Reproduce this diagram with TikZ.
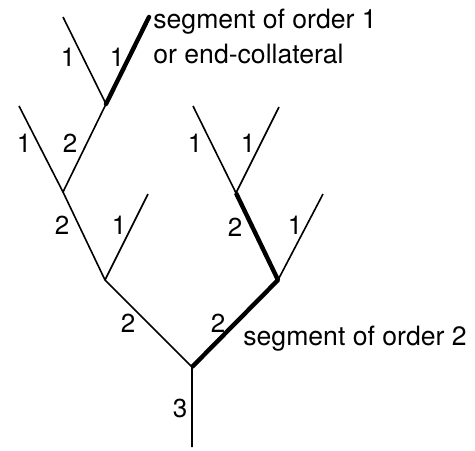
\documentclass[tikz,border=0pt]{standalone}
\usepackage{fontspec}
\setmainfont{TeX Gyre Heros}
\begin{document}
\begin{tikzpicture}[x=0.5pt,y=-0.5pt,
  seg/.style={line width=0.8pt},
  order/.style={line width=2.2pt},
  num/.style={inner sep=0pt,font=\fontsize{13}{15}\selectfont},
  note/.style={inner sep=0pt,anchor=base west,font=\fontsize{13.3}{17.5}\selectfont}]
  \useasboundingbox (0,0) rectangle (475,450);
  % junctions and tips of the tree
  \coordinate (foot) at (192,447);
  \coordinate (root) at (192,367);
  \coordinate (left) at (105,280);
  \coordinate (right) at (278,280);
  \coordinate (lmid) at (63,192);
  \coordinate (ltop) at (106,104);
  \coordinate (rmid) at (236,193);
  \coordinate (tipa) at (148,194);
  \coordinate (tipb) at (19,106);
  \coordinate (tipc) at (63,17);
  \coordinate (tipd) at (149,17);
  \coordinate (tipe) at (323,194);
  \coordinate (tipf) at (193,106);
  \coordinate (tipg) at (279,107);
  % thin segments
  \draw[seg] (foot) -- (root) -- (left) -- (lmid) -- (ltop) -- (tipc);
  \draw[seg] (left) -- (tipa);
  \draw[seg] (lmid) -- (tipb);
  \draw[seg] (right) -- (tipe);
  \draw[seg] (tipf) -- (rmid) -- (tipg);
  % thick segments
  \draw[order,line cap=round] (ltop) -- (tipd);
  \draw[order,line join=round] (root) -- (right) -- (rmid);
  % orders
  \node[num] (n3) at (180,408) {3};
  \node[num] (n2a) at (128,323) {2};
  \node[num] (n2b) at (218,323) {2};
  \node[num] (n2c) at (62,225) {2};
  \node[num] (n1a) at (119,225) {1};
  \node[num] (n2d) at (235,227) {2};
  \node[num] (n1b) at (295,225) {1};
  \node[num] (n1c) at (24,143) {1};
  \node[num] (n2e) at (70,143) {2};
  \node[num] (n1d) at (195,143) {1};
  \node[num] (n1e) at (248,143) {1};
  \node[num] (n1f) at (68,57) {1};
  \node[num] (n1g) at (117,57) {1};
  % notes
  \node[note] (endone) at (153,28) {segment of order 1};
  \node[note] (endtwo) at (153,63) {or end-collateral};
  \node[note] (ordtwo) at (243,345) {segment of order 2};
\end{tikzpicture}
\end{document}
